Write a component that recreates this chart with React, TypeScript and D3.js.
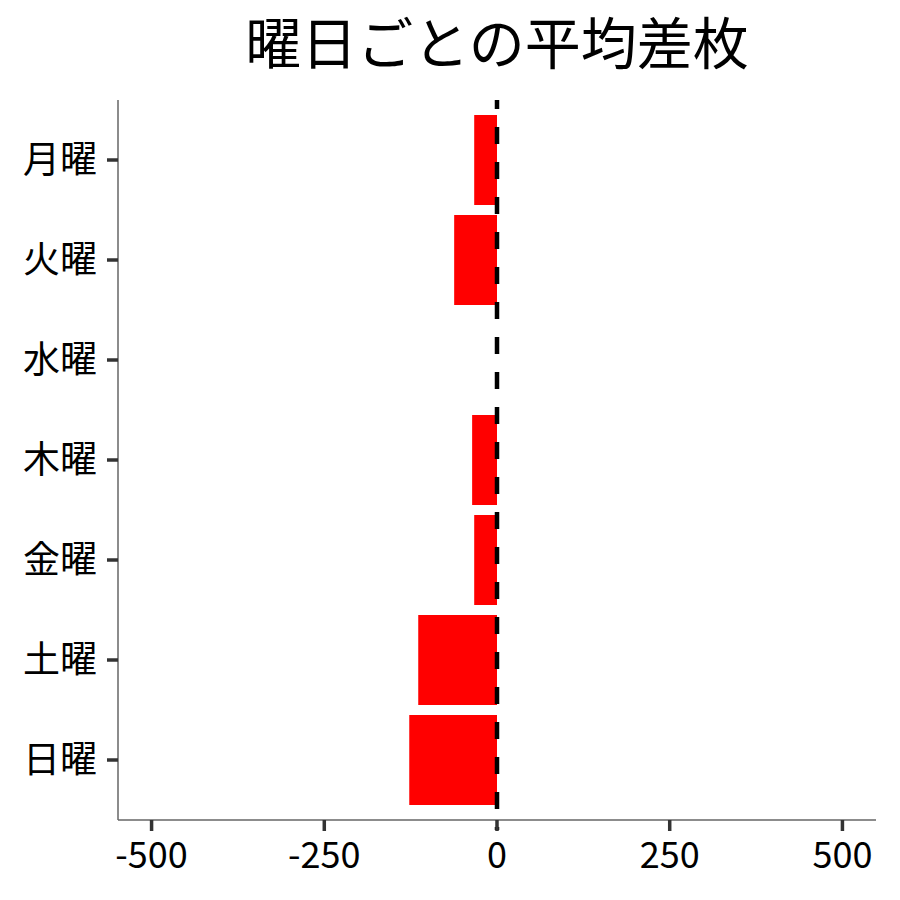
import React from "react";
import * as d3 from "d3";

const days = ["月曜", "火曜", "水曜", "木曜", "金曜", "土曜", "日曜"];
const values = [-33, -62, 0, -36, -33, -114, -127];
const xTicks = [-500, -250, 0, 250, 500];
const title = "曜日ごとの平均差枚";

export default function App() {
  const W = 900, H = 900;
  const left = 118, right = 876, top = 100, bottom = 820;
  const x = d3.scaleLinear().domain([-548.6, 548.6]).range([left, right]);
  const step = (bottom - top) / 7.2;
  const yc = (d: string) => top + step * 0.6 + days.indexOf(d) * step;
  const bw = step * 0.9;
  const font = "'Noto Sans CJK JP', 'Noto Sans', sans-serif";
  return (
    <svg width={W} height={H} style={{ position: "absolute", left: 0, top: 0 }} fontFamily={font}>
      <rect width={W} height={H} fill="#fff" />
      <text x={(left + right) / 2} y={64} textAnchor="middle" fontSize={56} fill="#000">{title}</text>
      {days.map((d, i) => {
        const v = values[i];
        const x0 = x(Math.min(0, v));
        const x1 = x(Math.max(0, v));
        return <rect key={d} x={x0} y={yc(d) - bw / 2} width={x1 - x0} height={bw} fill="#ff0000" />;
      })}
      <line x1={x(0)} x2={x(0)} y1={top} y2={bottom + 10} stroke="#000" strokeWidth={4.5} strokeDasharray="17 18" strokeDashoffset={8} />
      <line x1={left} x2={left} y1={top} y2={bottom} stroke="#666" strokeWidth={1.5} />
      <line x1={left} x2={right} y1={bottom} y2={bottom} stroke="#666" strokeWidth={1.5} />
      {days.map((d) => (
        <g key={d}>
          <line x1={left - 11} x2={left} y1={yc(d)} y2={yc(d)} stroke="#333" strokeWidth={3.5} />
          <text x={left - 21} y={yc(d)} dy="0.36em" textAnchor="end" fontSize={37} fill="#000">{d}</text>
        </g>
      ))}
      {xTicks.map((t) => (
        <g key={t}>
          <line x1={x(t)} x2={x(t)} y1={bottom} y2={bottom + 11} stroke="#333" strokeWidth={3.5} />
          <text x={x(t)} y={868} textAnchor="middle" fontSize={36} fill="#000">{t}</text>
        </g>
      ))}
    </svg>
  );
}
